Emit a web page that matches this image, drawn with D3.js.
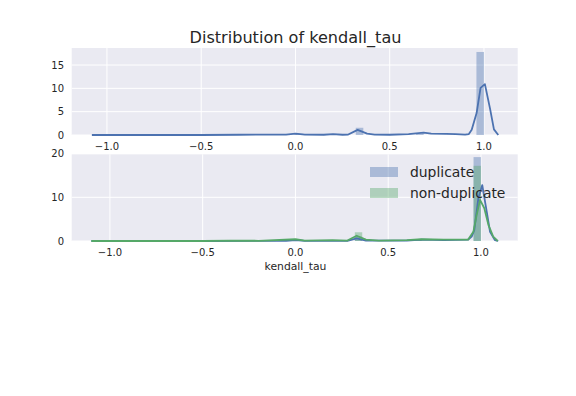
<!DOCTYPE html>
<html><head><meta charset="utf-8">
<script src="https://cdn.jsdelivr.net/npm/d3@7"></script>
<style>body{margin:0;background:#fff}svg{display:block}text{font-family:"DejaVu Sans",sans-serif;fill:#262626}</style>
</head><body><svg id="c" width="576" height="396"></svg>
<script>
// ---- data ----
const binEdgesLeft = [0.00, 0.32, 0.64, 0.96];
const binWidth = 0.04;
const allBars = [0.25, 1.55, 0.3, 17.8];
const dupBars = [0.2, 1.0, 0.3, 19.2];
const nonDupBars = [0.3, 2.0, 0.35, 17.2];

const allKdeX = [-1.08,-0.5,-0.3,-0.05,0.0,0.05,0.15,0.2,0.25,0.28,0.33,0.38,0.42,0.5,0.6,0.68,0.72,0.8,0.85,0.9,0.92,0.935,0.961,0.982,1.005,1.032,1.053,1.076];
const allKdeY = [0,0,0.05,0.1,0.3,0.1,0.05,0.2,0.05,0.1,1.1,0.3,0.1,0.05,0.2,0.5,0.3,0.25,0.2,0.1,0.2,1.1,4.7,10.1,10.9,5.7,1.2,0];

const dupKdeX = [-1.1,-0.5,-0.05,0.0,0.05,0.28,0.33,0.38,0.6,0.68,0.8,0.93,0.95,0.964,0.986,1.007,1.031,1.049,1.075,1.093];
const dupKdeY = [0,0,0.05,0.2,0.05,0.05,0.6,0.1,0.1,0.3,0.2,0.3,1.0,2.5,9.8,12.8,6.7,2.1,0.2,0];

const nonKdeX = [-1.1,-0.5,-0.35,-0.2,0.0,0.05,0.2,0.28,0.33,0.38,0.45,0.6,0.68,0.8,0.93,0.959,0.977,0.995,1.018,1.04,1.066,1.09];
const nonKdeY = [0,0,0.1,0.05,0.4,0.1,0.2,0.1,1.2,0.3,0.1,0.2,0.4,0.3,0.3,2.1,6.0,9.4,7.5,3.7,1.0,0];

const xTicks = [-1.0,-0.5,0.0,0.5,1.0];
const topYTicks = [0,5,10,15];
const botYTicks = [0,10,20];
const seriesNames = ["duplicate","non-duplicate"];

const BLUE = "#4C72B0", GREEN = "#55A868";
const svg = d3.select("#c");
const fmtX = d => d3.format(".1f")(d).replace("-", "\u2212");

function panel(top, bottom, xDom, yDom, yTicks, bars, kdes) {
  const x = d3.scaleLinear().domain(xDom).range([71.7, 517.7]);
  const y = d3.scaleLinear().domain(yDom).range([bottom, top]);
  const g = svg.append("g");
  g.append("rect").attr("x", 71.7).attr("y", top).attr("width", 446).attr("height", bottom - top).attr("fill", "#EAEAF2");
  g.selectAll(".gx").data(xTicks).join("line").attr("x1", d => x(d)).attr("x2", d => x(d)).attr("y1", top).attr("y2", bottom).attr("stroke", "#fff").attr("stroke-width", 1);
  g.selectAll(".gy").data(yTicks).join("line").attr("x1", 71.7).attr("x2", 517.7).attr("y1", d => y(d)).attr("y2", d => y(d)).attr("stroke", "#fff").attr("stroke-width", 1);
  bars.forEach(b => {
    g.selectAll(null).data(b.vals).join("rect")
      .attr("x", (d, i) => x(binEdgesLeft[i])).attr("width", (d, i) => x(binEdgesLeft[i] + binWidth) - x(binEdgesLeft[i]))
      .attr("y", d => y(d)).attr("height", d => y(0) - y(d)).attr("fill", b.color).attr("fill-opacity", 0.4);
  });
  kdes.forEach(k => {
    const line = d3.line().x((d, i) => x(k.xs[i])).y(d => y(d));
    g.append("path").attr("d", line(k.ys)).attr("fill", "none").attr("stroke", k.color).attr("stroke-width", 1.8).attr("stroke-linejoin", "round");
  });
  g.selectAll(".tx").data(xTicks).join("text").attr("x", d => x(d)).attr("y", bottom + 14.5).attr("text-anchor", "middle").attr("font-size", 10).text(fmtX);
  g.selectAll(".ty").data(yTicks).join("text").attr("x", 64).attr("y", d => y(d) + 3.6).attr("text-anchor", "end").attr("font-size", 10).text(d => d);
  return {x, y};
}

svg.append("text").attr("x", 295.5).attr("y", 42.7).attr("text-anchor", "middle").attr("font-size", 16.1).text("Distribution of kendall_tau");

panel(48, 135, [-1.187, 1.179], [0, 18.65], topYTicks,
  [{vals: allBars, color: BLUE}],
  [{xs: allKdeX, ys: allKdeY, color: BLUE}]);

panel(154.3, 241, [-1.206, 1.198], [0, 19.84], botYTicks,
  [{vals: dupBars, color: BLUE}, {vals: nonDupBars, color: GREEN}],
  [{xs: dupKdeX, ys: dupKdeY, color: BLUE}, {xs: nonKdeX, ys: nonKdeY, color: GREEN}]);

svg.append("text").attr("x", 295.5).attr("y", 270).attr("text-anchor", "middle").attr("font-size", 10.8).text("kendall_tau");

const lg = svg.append("g");
[BLUE, GREEN].forEach((c, i) => {
  lg.append("rect").attr("x", 370).attr("y", 167 + i * 21).attr("width", 28).attr("height", 10).attr("fill", c).attr("fill-opacity", 0.4);
  lg.append("text").attr("x", 410).attr("y", 177.3 + i * 21).attr("font-size", 13.9).text(seriesNames[i]);
});
</script></body></html>
